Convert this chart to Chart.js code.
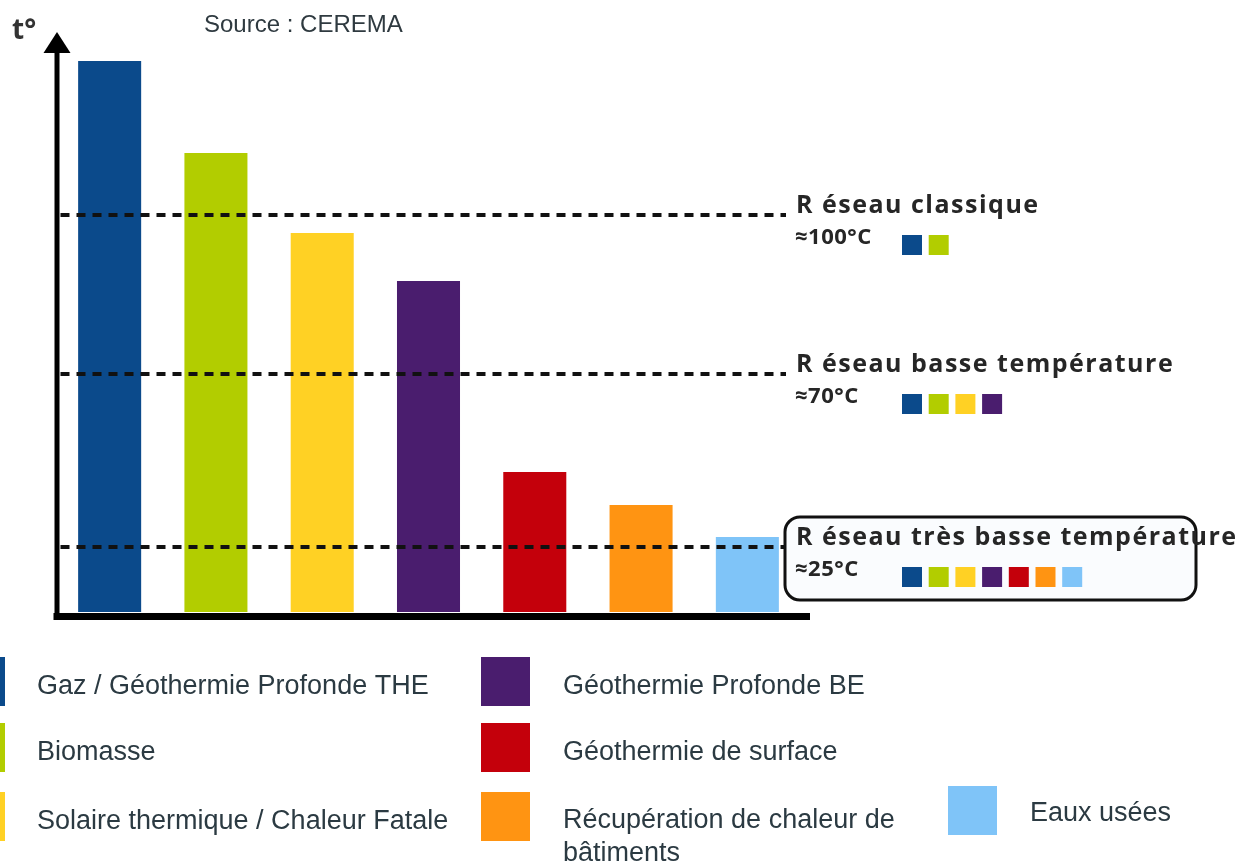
<!DOCTYPE html>
<html>
<head>
<meta charset="utf-8">
<script src="https://cdn.jsdelivr.net/npm/chart.js@4/dist/chart.umd.min.js"></script>
<style>
  html, body { margin: 0; padding: 0; background: #fff; }
  #wrap { width: 1243px; height: 863px; position: relative; }
</style>
</head>
<body>
<div id="wrap"><canvas id="chart" width="1243" height="863"></canvas></div>
<script>
// sources de chaleur (hauteurs relatives, pas d'échelle sur l'axe)
const sources = [
    "Gaz / Géothermie Profonde THE",
    "Biomasse",
    "Solaire thermique / Chaleur Fatale",
    "Géothermie Profonde BE",
    "Géothermie de surface",
    "Récupération de chaleur de bâtiments",
    "Eaux usées",
];
const niveaux = [551, 459, 379, 331, 140, 107, 75];
const couleurs = ["#0b4a8b", "#b2cd00", "#ffd124", "#4a1d6e", "#c4000b", "#ff9412", "#7fc4f8"];

// réseaux : seuil sur l'axe, libellé, température, nb de sources compatibles
const reseauSeuils = [397, 238, 65];
const reseauNoms = ["R éseau classique", "R éseau basse température", "R éseau très basse température"];
const reseauTemps = ["≈100°C", "≈70°C", "≈25°C"];
const reseauNbSources = [2, 4, 7];

const ctx = document.getElementById("chart").getContext("2d");

const decor = {
    id: "decor",
    afterDatasetsDraw: (chart) => {
        const c = chart.ctx;
        const area = chart.chartArea;
        const y = chart.scales.y;
        c.save();

        // axes
        c.fillStyle = "#000";
        c.fillRect(area.left - 2, 52, 5, area.bottom - 52 + 4);
        c.fillRect(area.left - 3, area.bottom + 1, 813 - area.left, 7);
        c.beginPath();
        c.moveTo(area.left + 0.5, 32);
        c.lineTo(area.left + 14, 53);
        c.lineTo(area.left - 13, 53);
        c.closePath();
        c.fill();

        // seuils des réseaux
        c.strokeStyle = "#111";
        c.lineWidth = 4;
        c.setLineDash([9, 7]);
        reseauSeuils.forEach((v) => {
            const py = Math.round(y.getPixelForValue(v));
            c.beginPath();
            c.moveTo(area.left + 4, py);
            c.lineTo(786, py);
            c.stroke();
        });
        c.setLineDash([]);

        // cadre du réseau très basse température
        c.fillStyle = "#fafcfe";
        c.strokeStyle = "#111";
        c.lineWidth = 3;
        c.beginPath();
        c.roundRect(785, 517, 411, 83, 15);
        c.fill();
        c.stroke();

        // libellés des réseaux
        c.fillStyle = "#262626";
        c.textBaseline = "middle";
        reseauSeuils.forEach((v, i) => {
            const py = y.getPixelForValue(v);
            c.font = "bold 25px 'Open Sans'";
            c.letterSpacing = "1.5px";
            c.fillText(reseauNoms[i], 796, py - 9);
            c.font = "bold 22px 'Open Sans'";
            c.letterSpacing = "0.5px";
            c.fillText(reseauTemps[i], 795, py + 23);
            c.letterSpacing = "0px";
            for (let k = 0; k < reseauNbSources[i]; k++) {
                c.fillStyle = couleurs[k];
                c.fillRect(902 + k * 26.7, py + 20, 20, 20);
            }
            c.fillStyle = "#262626";
        });

        // titre de l'axe et source
        c.font = "bold 28px 'Open Sans'";
        c.fillStyle = "#333";
        c.fillText("t°", 12, 31);
        c.font = "24px 'Liberation Sans'";
        c.fillStyle = "#2f3a40";
        c.fillText("Source : CEREMA", 204, 25);

        // légende
        const cols = [[-44, 37], [481, 563], [948, 1030]];
        const rows = [657, 723, 792];
        c.font = "27px 'Liberation Sans'";
        sources.forEach((s, i) => {
            let col = Math.floor(i / 3), row = i % 3;
            let sy = rows[row];
            if (i === 6) { col = 2; sy = 786; }
            c.fillStyle = couleurs[i];
            c.fillRect(cols[col][0], sy, 49, 49);
            c.fillStyle = "#2b3a42";
            if (i === 5) {
                c.fillText("Récupération de chaleur de", cols[col][1], sy + 29);
                c.fillText("bâtiments", cols[col][1], sy + 62);
            } else {
                c.fillText(s, cols[col][1], sy + (i === 6 ? 28 : 30));
            }
        });

        c.restore();
    },
};

new Chart(ctx, {
    type: "bar",
    data: {
        labels: sources,
        datasets: [
            {
                label: "Température",
                data: niveaux,
                backgroundColor: couleurs,
                borderWidth: 0,
                barPercentage: 0.593,
                categoryPercentage: 1,
            },
        ],
    },
    options: {
        responsive: false,
        animation: false,
        layout: {
            padding: { left: 56.5, right: 442.5, top: 32, bottom: 251 },
        },
        scales: {
            x: { display: false },
            y: { display: false, min: 0, max: 580 },
        },
        plugins: {
            legend: { display: false },
            tooltip: { enabled: false },
        },
    },
    plugins: [decor],
});
</script>
</body>
</html>
